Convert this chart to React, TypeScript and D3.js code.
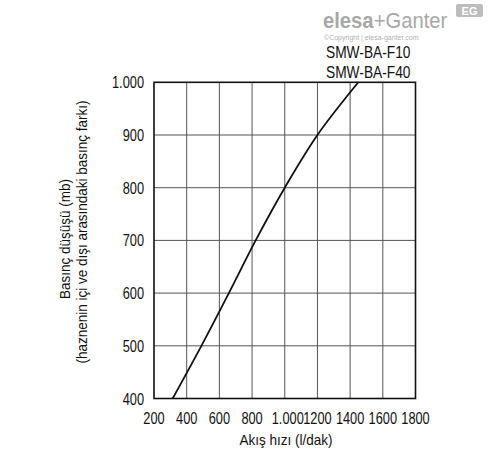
import React, { useEffect, useRef } from 'react';
import * as d3 from 'd3';

// flow (l/dak) vs pressure drop (mb)
const flowValues = [314, 490, 658, 822, 1000, 1200, 1450];
const pressureValues = [400, 500, 600, 700, 800, 900, 1000];

const xTicks = [200, 400, 600, 800, 1000, 1200, 1400, 1600, 1800];
const xTickLabels = ['200', '400', '600', '800', '1.000', '1200', '1400', '1600', '1800'];
const yTicks = [400, 500, 600, 700, 800, 900, 1000];
const yTickLabels = ['400', '500', '600', '700', '800', '900', '1.000'];
const seriesNames = ['SMW-BA-F10', 'SMW-BA-F40'];

const FONT = 'Liberation Sans, Arial, sans-serif';

const App: React.FC = () => {
  const ref = useRef<SVGSVGElement>(null);

  useEffect(() => {
    if (!ref.current) return;
    const svg = d3.select(ref.current);
    svg.selectAll('*').remove();

    const left = 154, right = 415.5, top = 82.3, bottom = 398.5;
    const x = d3.scaleLinear().domain([200, 1800]).range([left, right]);
    const y = d3.scaleLinear().domain([400, 1000]).range([bottom, top]);

    // narrow text helper (the source font is condensed)
    const label = (tx: number, ty: number, str: string, size: number, sx: number,
      anchor: string, rotate = 0, fill = '#111', weight = 'normal') => {
      return svg.append('g')
        .attr('transform', `translate(${tx},${ty}) rotate(${rotate}) scale(${sx},1)`)
        .append('text')
        .attr('text-anchor', anchor)
        .style('font-family', FONT)
        .style('font-size', size + 'px')
        .style('font-weight', weight)
        .attr('fill', fill)
        .text(str);
    };

    // grid
    const grid = svg.append('g');
    grid.selectAll('.vx')
      .data(xTicks.slice(1, -1))
      .enter().append('line')
      .attr('x1', d => x(d)).attr('x2', d => x(d))
      .attr('y1', top).attr('y2', bottom)
      .attr('stroke', '#555').attr('stroke-width', 1);
    grid.selectAll('.hy')
      .data(yTicks.slice(1, -1))
      .enter().append('line')
      .attr('x1', left).attr('x2', right)
      .attr('y1', d => y(d)).attr('y2', d => y(d))
      .attr('stroke', '#555').attr('stroke-width', 1);

    // curve
    const pts = flowValues.map((f, i) => [f, pressureValues[i]] as [number, number]);
    const line = d3.line<[number, number]>()
      .x(d => x(d[0]))
      .y(d => y(d[1]))
      .curve(d3.curveCatmullRom.alpha(0.5));
    svg.append('path')
      .datum(pts)
      .attr('d', line)
      .attr('fill', 'none')
      .attr('stroke', '#111')
      .attr('stroke-width', 1.8);

    // frame
    svg.append('rect')
      .attr('x', left).attr('y', top)
      .attr('width', right - left).attr('height', bottom - top)
      .attr('fill', 'none').attr('stroke', '#111').attr('stroke-width', 1.6);

    // tick labels
    xTicks.forEach((t, i) =>
      label(x(t) + (xTickLabels[i] === '1.000' ? 3 : 0), 424, xTickLabels[i], 16, 0.8, 'middle'));
    yTicks.forEach((t, i) => label(144, y(t) + 6, yTickLabels[i], 16, 0.8, 'end'));

    // axis titles
    label(286, 445, 'Akış hızı (l/dak)', 15, 0.9, 'middle');
    label(70, 239, 'Basınç düşüşü (mb)', 15, 0.9, 'middle', -90);
    label(86.5, 232, '(haznenin içi ve dışı arasındaki basınç farkı)', 15, 0.9, 'middle', -90);

    // series names
    seriesNames.forEach((s, i) => label(326, 58 + i * 20, s, 16, 0.86, 'start'));

    // logo
    const logo = label(323, 28, '', 22, 0.92, 'start', 0, '#a8a8a8');
    logo.append('tspan').style('font-weight', 'bold').text('elesa');
    logo.append('tspan').text('+Ganter');
    label(324, 40, '©Copyright | elesa-ganter.com', 7, 1, 'start', 0, '#b0b0b0');
    svg.append('rect')
      .attr('x', 456).attr('y', 4).attr('width', 27).attr('height', 13)
      .attr('rx', 2).attr('fill', '#bdbdbd');
    label(469.5, 15, 'EG', 11, 1, 'middle', 0, '#fff', 'bold');
  }, []);

  return (
    <svg ref={ref} width={488} height={454}
      style={{ position: 'absolute', left: 0, top: 0, background: '#fff' }} />
  );
};

export default App;
